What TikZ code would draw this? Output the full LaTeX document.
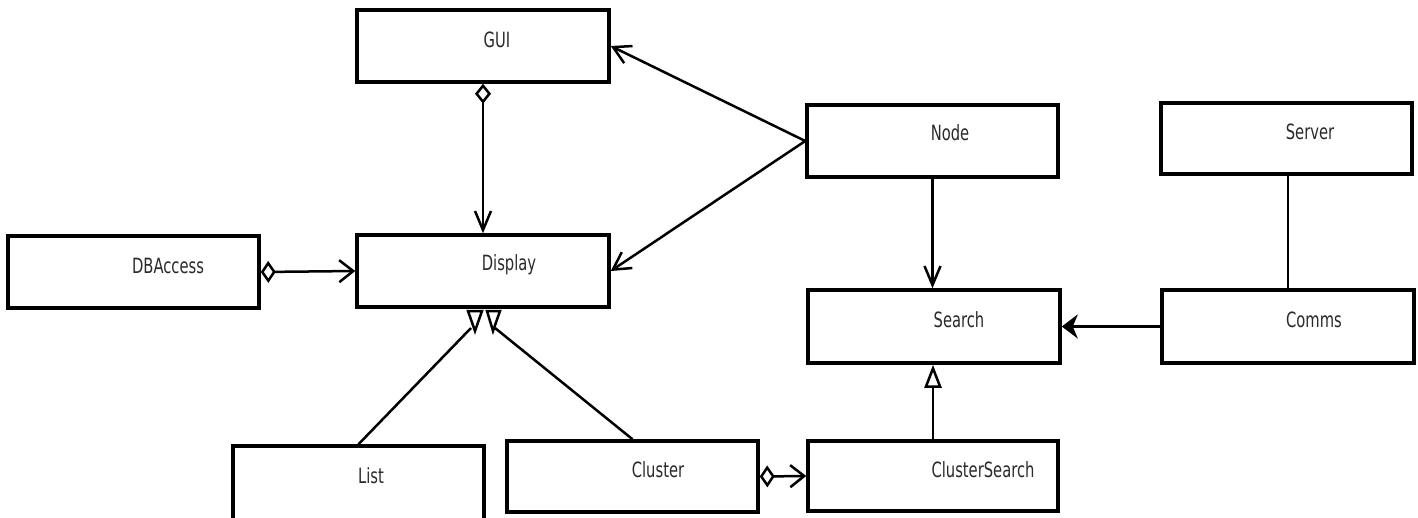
\documentclass[tikz,border=0pt]{standalone}
\usepackage{fontspec}
\newfontfamily\lblfont{DejaVu Sans Condensed}[FakeStretch=0.78]
\usetikzlibrary{arrows.meta}
\definecolor{txt}{HTML}{2A2A2A}
\tikzset{
  box/.style={draw=black, line width=3.5pt, fill=white, inner sep=0pt},
  lbl/.style={text=txt, font=\lblfont\fontsize{21}{21}\selectfont, inner sep=0pt, anchor=center},
  conn/.style={draw=black, line width=2.5pt},
  vvert/.style={-{Straight Barb[length=19pt,width=16pt]}},
  vdiag/.style={-{Straight Barb[length=17pt,width=19pt]}},
  diavert/.style={{Diamond[open,length=20pt,width=16pt]}-{Straight Barb[length=19pt,width=16pt]}},
  diahor/.style={{Diamond[open,length=15pt,width=22pt]}-{Straight Barb[length=14pt,width=22pt]}},
  gen/.style={-{Triangle[open,length=23pt,width=17pt]}},
  heavy/.style={draw=black, line width=3.5pt, -{Stealth[length=16pt,width=24pt,inset=5pt]}},
  tri/.style={draw=black, line width=2.5pt, fill=white, line join=miter}
}
\newcommand{\umlbox}[5]{% name, left, top, right, bottom
  \node[box, minimum width={#4-#2}, minimum height={#5-#3}] (#1) at ({(#2+#4)/2},{(#3+#5)/2}) {};}
\begin{document}
\begin{tikzpicture}[x=1pt,y=-1pt]
\useasboundingbox (0,0) rectangle (1418,517);
\clip (0,0) rectangle (1418,517);
\fill[white] (0,0) rectangle (1418,517);
% boxes
\umlbox{gui}{357}{10}{609}{82}
\umlbox{display}{357}{235}{609}{307}
\umlbox{dbaccess}{8}{236}{259}{308}
\umlbox{list}{233}{446}{484}{530}
\umlbox{cluster}{507}{441}{758}{512}
\umlbox{clustersearch}{808}{441}{1058}{511}
\umlbox{nodebox}{807}{105}{1058}{177}
\umlbox{search}{808}{290}{1060}{363}
\umlbox{server}{1161}{103}{1412}{174}
\umlbox{comms}{1162}{290}{1414}{363}
% labels
\node[lbl] (tgui) at (497,40) {GUI};
\node[lbl] (tdisplay) at (509,265) {Display};
\node[lbl] (tdbaccess) at (168,266) {DBAccess};
\node[lbl] (tlist) at (371,476) {List};
\node[lbl] (tcluster) at (658,470) {Cluster};
\node[lbl] (tclustersearch) at (983,470) {ClusterSearch};
\node[lbl] (tnode) at (950,133) {Node};
\node[lbl] (tsearch) at (959,320) {Search};
\node[lbl] (tserver) at (1310,132) {Server};
\node[lbl] (tcomms) at (1314,320) {Comms};
% connectors
\draw[conn,diavert] (gui.south) -- (display.north);
\draw[conn,diahor] (dbaccess.east) -- (display.west);
\draw[conn,diahor] (cluster.east) -- (clustersearch.west);
\draw[conn,vdiag] (nodebox.west) -- (gui.east);
\draw[conn,vdiag] (nodebox.west) -- (display.east);
\draw[conn,vvert] (nodebox.south) -- (nodebox.south |- search.north);
\draw[conn] (server.south -| 1288,0) -- (comms.north -| 1288,0);
\draw[heavy] (comms.west) -- (search.east);
\draw[conn,gen] (clustersearch.north) -- (clustersearch.north |- search.south);
% generalisations to Display
\coordinate (tl) at (471,328);
\coordinate (tc) at (495,328);
\draw[conn] (list.north) -- (tl);
\draw[conn] (cluster.north) -- (tc);
\draw[tri] (468,311) -- (482,311) -- (475,331) -- cycle;
\draw[tri] (487,311) -- (500,311) -- (493,331) -- cycle;
\end{tikzpicture}
\end{document}
